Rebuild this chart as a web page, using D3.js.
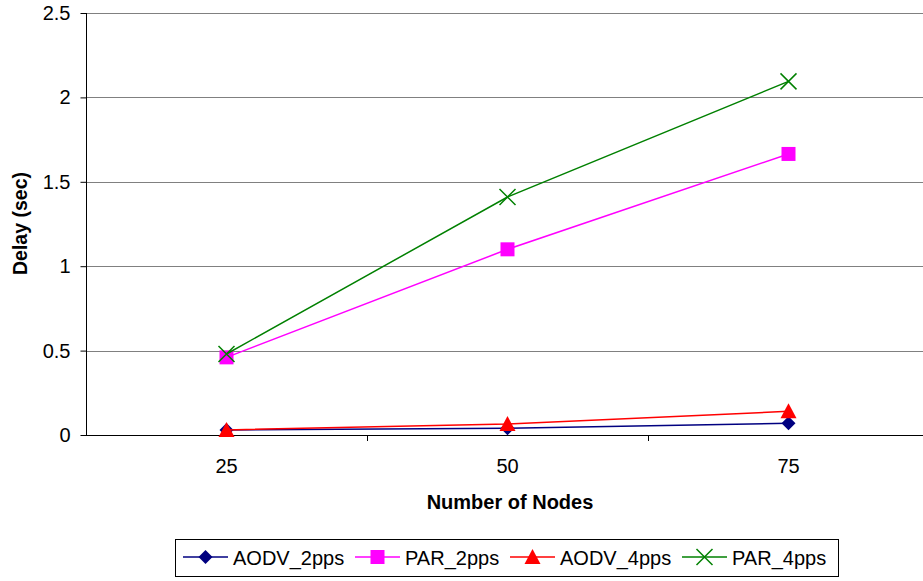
<!DOCTYPE html>
<html><head><meta charset="utf-8">
<script src="https://cdn.jsdelivr.net/npm/d3@7"></script>
<style>body{margin:0;background:#fff}svg{display:block}text{font-family:"Liberation Sans",Arial,sans-serif}</style>
</head><body>
<svg id="c" width="923" height="581"></svg>
<script>
const categories = ["25","50","75"];
const aodv2 = [0.03, 0.04, 0.07];
const par2 = [0.46, 1.10, 1.665];
const aodv4 = [0.03, 0.065, 0.14];
const par4 = [0.48, 1.41, 2.095];
const yTicks = [0, 0.5, 1, 1.5, 2, 2.5];
const seriesNames = ["AODV_2pps","PAR_2pps","AODV_4pps","PAR_4pps"];
const seriesColors = ["#000080","#FF00FF","#FF0000","#008000"];
const seriesShapes = ["diamond","square","triangle","x"];
const seriesData = [aodv2, par2, aodv4, par4];

const svg = d3.select("#c");
const pL = 86, pR = 929, pT = 13, pB = 435;
const x = d3.scaleBand().domain(categories).range([pL, pR]).padding(0);
const y = d3.scaleLinear().domain([0, 2.5]).range([pB, pT]);

// gridlines
svg.append("g").selectAll("line").data(yTicks.filter(d => d > 0)).join("line")
  .attr("x1", pL).attr("x2", 923).attr("y1", d => Math.round(y(d)) + 0.5).attr("y2", d => Math.round(y(d)) + 0.5)
  .attr("stroke", "#808080").attr("stroke-width", 1);

// y axis
const ya = svg.append("g").attr("transform", `translate(${pL + 0.5},0)`)
  .call(d3.axisLeft(y).tickValues(yTicks).tickSize(6).tickPadding(10).tickFormat(d => d3.format("")(d)));
ya.select(".domain").attr("stroke","#000").attr("d", `M0,${pT}V${pB}`);
ya.selectAll(".tick line").attr("stroke","#000");
ya.selectAll("text").attr("font-size", 20).attr("fill","#000").attr("font-family","Liberation Sans, Arial");

// x axis
svg.append("line").attr("x1", pL).attr("x2", 923).attr("y1", pB + 0.5).attr("y2", pB + 0.5)
  .attr("stroke","#000");
const bounds = categories.slice(1).map(c => x(c));
svg.append("g").selectAll("line").data(bounds).join("line")
  .attr("x1", d => Math.round(d) + 0.5).attr("x2", d => Math.round(d) + 0.5).attr("y1", pB).attr("y2", pB + 6)
  .attr("stroke","#000");
svg.append("g").selectAll("text").data(categories).join("text")
  .attr("x", d => x(d) + x.bandwidth()/2).attr("y", 473).attr("text-anchor","middle")
  .attr("font-size", 20).text(d => d);

// axis titles
svg.append("text").attr("x", 510).attr("y", 509).attr("text-anchor","middle")
  .attr("font-size", 20).attr("font-weight","bold").text("Number of Nodes");
svg.append("text").attr("transform","translate(27,223.5) rotate(-90)").attr("text-anchor","middle")
  .attr("font-size", 19.5).attr("font-weight","bold").text("Delay (sec)");

function marker(g, shape, color, cx, cy) {
  if (shape === "diamond") {
    g.append("path").attr("d", `M${cx},${cy-7}L${cx+7},${cy}L${cx},${cy+7}L${cx-7},${cy}Z`).attr("fill", color);
  } else if (shape === "square") {
    g.append("rect").attr("x", cx-7).attr("y", cy-7).attr("width", 14).attr("height", 14).attr("fill", color);
  } else if (shape === "triangle") {
    g.append("path").attr("d", `M${cx},${cy-8}L${cx+8},${cy+7}L${cx-8},${cy+7}Z`).attr("fill", color);
  } else {
    g.append("path").attr("d", `M${cx-8},${cy-8}L${cx+8},${cy+8}M${cx-8},${cy+8}L${cx+8},${cy-8}`)
      .attr("stroke", color).attr("stroke-width", 1.5).attr("fill","none");
  }
}

const cxOf = c => x(c) + x.bandwidth()/2;
seriesData.forEach((vals, i) => {
  const g = svg.append("g");
  const line = d3.line().x((d, j) => cxOf(categories[j])).y(d => y(d));
  g.append("path").attr("d", line(vals)).attr("fill","none").attr("stroke", seriesColors[i]).attr("stroke-width", 1.5);
  vals.forEach((v, j) => marker(g, seriesShapes[i], seriesColors[i], cxOf(categories[j]), y(v)));
});

// legend
svg.append("rect").attr("x", 175.5).attr("y", 539.5).attr("width", 663).attr("height", 37)
  .attr("fill","#fff").attr("stroke","#000").attr("stroke-width",1);
const legX = [183, 355, 510, 682];
const ly = 557;
seriesNames.forEach((n, i) => {
  const g = svg.append("g");
  g.append("line").attr("x1", legX[i]).attr("x2", legX[i] + 45).attr("y1", ly).attr("y2", ly)
    .attr("stroke", seriesColors[i]).attr("stroke-width", 1.5);
  marker(g, seriesShapes[i], seriesColors[i], legX[i] + 22.5, ly);
  g.append("text").attr("x", legX[i] + 50).attr("y", ly + 7.5).attr("font-size", 20).text(n);
});
</script>
</body></html>
